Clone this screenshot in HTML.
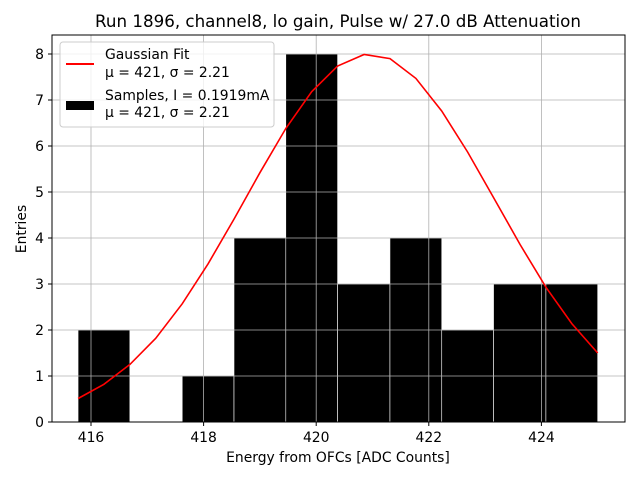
<!DOCTYPE html>
<html><head><meta charset="utf-8"><style>
body{margin:0;background:#fff;}
svg text{font-family:"DejaVu Sans","Liberation Sans",sans-serif;fill:#000;}
</style></head><body>
<svg id="chart" width="640" height="480" viewBox="0 0 640 480" xmlns="http://www.w3.org/2000/svg">
<rect width="640" height="480" fill="#fff"/>
<text x="338" y="27" font-size="16.7" text-anchor="middle">Run 1896, channel8, lo gain, Pulse w/ 27.0 dB Attenuation</text>
<g id="bars"></g>
<g id="grid"></g>
<g id="curve"></g>
<rect x="52" y="35" width="573" height="387" fill="none" stroke="#000" stroke-width="1"/>
<g id="ticks"></g>
<text x="338" y="462" font-size="13.9" text-anchor="middle">Energy from OFCs [ADC Counts]</text>
<text x="0" y="0" font-size="13.9" text-anchor="middle" transform="translate(26,229) rotate(-90)">Entries</text>
<g>
<rect x="60" y="42" width="214" height="85" rx="3" fill="#fff" fill-opacity="0.8" stroke="#ccc"/>
<line x1="66" y1="64" x2="94" y2="64" stroke="#f00" stroke-width="2"/>
<text x="105" y="59" font-size="13.9">Gaussian Fit</text>
<text x="105" y="77" font-size="13.9">μ = 421, σ = 2.21</text>
<rect x="66" y="101" width="28" height="9" fill="#000"/>
<text x="105" y="100" font-size="13.9">Samples, I = 0.1919mA</text>
<text x="105" y="117" font-size="13.9">μ = 421, σ = 2.21</text>
</g>
</svg>
<script>
const binEdges=[415.77,416.69,417.62,418.54,419.46,420.38,421.31,422.23,423.15,424.08,425.0];
const counts=[2,0,1,4,8,3,4,2,3,3];
const fitX=[415.77,416.23,416.69,417.15,417.62,418.08,418.54,419.00,419.46,419.92,420.38,420.85,421.31,421.77,422.23,422.69,423.15,423.62,424.08,424.54,425.00];
const fitY=[0.51,0.82,1.25,1.82,2.57,3.44,4.41,5.42,6.38,7.18,7.74,7.99,7.90,7.47,6.76,5.87,4.88,3.86,2.93,2.14,1.50];
const xTicks=[416,418,420,422,424];
const yTicks=[0,1,2,3,4,5,6,7,8];
const NS="http://www.w3.org/2000/svg";
function xs(v){return 91+(v-416)*56.3;}
function ys(v){return 422-v*46;}
function mk(tag,attrs,parent){const e=document.createElementNS(NS,tag);for(const k in attrs)e.setAttribute(k,attrs[k]);document.getElementById(parent).appendChild(e);return e;}
counts.forEach((c,i)=>{if(c<=0)return;const x0=xs(binEdges[i]),x1=xs(binEdges[i+1]);
const r=mk('rect',{x:x0,y:ys(c),width:x1-x0,height:ys(0)-ys(c),fill:'#000',stroke:'#fff','stroke-width':0.6},'bars');

});
xTicks.forEach(t=>{const x=xs(t);
const g=mk('line',{x1:x,x2:x,y1:35,y2:422,stroke:'#b0b0b0','stroke-width':0.8},'grid');


mk('line',{x1:x,x2:x,y1:422,y2:426,stroke:'#000'},'ticks');
const tx=mk('text',{x:x,y:442,'font-size':13.9,'text-anchor':'middle'},'ticks');tx.textContent=t;

});
yTicks.forEach(t=>{const y=ys(t);
const g=mk('line',{x1:52,x2:625,y1:y,y2:y,stroke:'#b0b0b0','stroke-width':0.8},'grid');


mk('line',{x1:48,x2:52,y1:y,y2:y,stroke:'#000'},'ticks');
const tx=mk('text',{x:44,y:y+5,'font-size':13.9,'text-anchor':'end'},'ticks');tx.textContent=t;

});
const pts=fitX.map((v,i)=>xs(v).toFixed(1)+','+ys(fitY[i]).toFixed(1)).join(' ');
const pl=mk('polyline',{points:pts,fill:'none',stroke:'#f00','stroke-width':1.6},'curve');


</script>
</body></html>
